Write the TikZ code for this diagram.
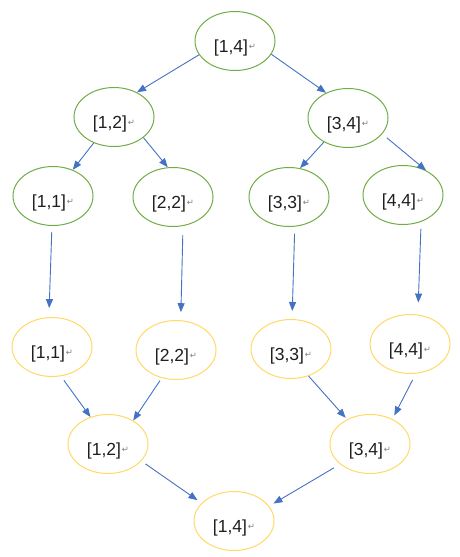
\documentclass[tikz,border=0pt]{standalone}
\usepackage{fontspec}
\setmainfont{Liberation Sans}
\newfontfamily\symfont{DejaVu Sans}
\usetikzlibrary{shapes.geometric,arrows.meta}
\definecolor{grn}{HTML}{70AD47}
\definecolor{ylw}{HTML}{FFD966}
\definecolor{blu}{HTML}{4472C4}
\newcommand{\lbl}[1]{#1\kern1pt\raisebox{2.5pt}{\symfont\fontsize{8.5}{8.5}\selectfont\color{gray}↵}}
\begin{document}
\begin{tikzpicture}[x=1pt,y=-1pt,
  seg/.style={ellipse, line width=1pt, minimum width=80pt, minimum height=59pt,
    inner sep=0pt, text height=22pt, text depth=0pt,
    font=\fontsize{17.5}{17.5}\selectfont, text=black!88},
  gnode/.style={seg, draw=grn},
  ynode/.style={seg, draw=ylw},
  arr/.style={draw=blu, line width=0.9pt, -{Triangle[length=9pt,width=7pt]}}]
\useasboundingbox (0,0) rectangle (459,557);
% green tree
\node[gnode] (g14) at (235,41) {\lbl{[1,4]}};
\node[gnode] (g12) at (114,117) {\lbl{[1,2]}};
\node[gnode] (g34) at (348,118) {\lbl{[3,4]}};
\node[gnode] (g11) at (53,196) {\lbl{[1,1]}};
\node[gnode] (g22) at (173,197) {\lbl{[2,2]}};
\node[gnode] (g33) at (289,197) {\lbl{[3,3]}};
\node[gnode] (g44) at (403,195) {\lbl{[4,4]}};
% yellow tree
\node[ynode] (y11) at (52,347) {\lbl{[1,1]}};
\node[ynode] (y22) at (176,350) {\lbl{[2,2]}};
\node[ynode] (y33) at (291,349) {\lbl{[3,3]}};
\node[ynode] (y44) at (410,344) {\lbl{[4,4]}};
\node[ynode] (y12) at (108,444) {\lbl{[1,2]}};
\node[ynode] (y34) at (370,444) {\lbl{[3,4]}};
\node[ynode] (y14) at (234,521) {\lbl{[1,4]}};
% arrows top
\draw[arr] (g14.201) -- (g12.47);
\draw[arr] (g14.340) -- (g34.131);
\draw[arr] (g12.232) -- (g11.53);
\draw[arr] (g12.325) -- (g22.100);
\draw[arr] (g34.225) -- (g33.69);
\draw[arr, shorten <=6pt] (g34.335) -- (g44.47);
% verticals
\draw[arr, shorten <=6pt, shorten >=9pt] (g11.268) -- (y11.96);
\draw[arr, shorten <=9pt, shorten >=8pt] (g22.289) -- (y22.81);
\draw[arr, shorten <=7pt, shorten >=8pt] (g33.281) -- (y33.88);
\draw[arr, shorten <=7pt, shorten >=12pt] (g44.304) -- (y44.75);
% lower
\draw[arr, shorten <=5pt] (y11.287) -- (y12.123);
\draw[arr, shorten <=3pt] (y22.243) -- (y12.43);
\draw[arr, shorten >=2pt] (y33.303) -- (y34.133);
\draw[arr, shorten <=7pt, shorten >=4pt] (y44.281) -- (y34.48);
\draw[arr, shorten <=5pt, shorten >=5pt] (y12.333) -- (y14.151);
\draw[arr, shorten <=7pt, shorten >=5pt] (y34.214) -- (y14.23);
\end{tikzpicture}
\end{document}
